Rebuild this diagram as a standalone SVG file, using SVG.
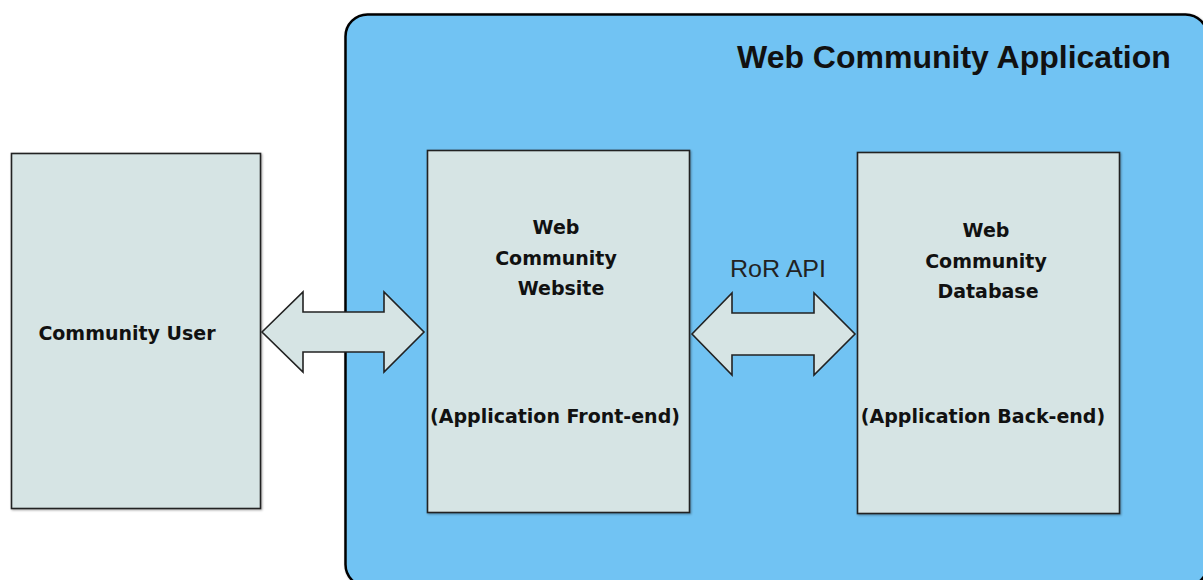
<svg xmlns="http://www.w3.org/2000/svg" width="1203" height="580" viewBox="0 0 1203 580">
  <defs>
    <filter id="soft" x="-5%" y="-5%" width="110%" height="110%">
      <feGaussianBlur in="SourceAlpha" stdDeviation="1"/>
      <feOffset dx="1" dy="1" result="b"/>
      <feFlood flood-color="#000" flood-opacity="0.35"/>
      <feComposite in2="b" operator="in"/>
      <feMerge><feMergeNode/><feMergeNode in="SourceGraphic"/></feMerge>
    </filter>
  </defs>
  <style>
    .container { fill: #71c3f3; stroke: #000; stroke-width: 2.5; }
    .box { fill: #d6e4e4; stroke: #222; stroke-width: 1.6; }
    .arrow { fill: #d6e4e4; stroke: #222; stroke-width: 1.6; stroke-linejoin: miter; }
    .title { font-family: "Liberation Sans", Arial, sans-serif; font-weight: bold; font-size: 32px; fill: #111; }
    .label { font-family: "DejaVu Sans", Verdana, sans-serif; font-weight: bold; font-size: 19px; fill: #111; text-anchor: middle; }
    .api { font-family: "Liberation Sans", Arial, sans-serif; font-size: 23px; fill: #222; text-anchor: middle; }
  </style>

  <!-- application boundary -->
  <g id="web-community-application">
    <rect class="container" x="345.5" y="14.5" width="862" height="572" rx="22" filter="url(#soft)"/>
    <text class="title" x="737" y="68">Web Community Application</text>
  </g>

  <g id="community-user">
    <rect class="box" x="11.5" y="153.5" width="249" height="355" filter="url(#soft)"/>
    <text class="label" x="127" y="340">Community User</text>
  </g>

  <g id="front-end">
    <rect class="box" x="427.5" y="150.5" width="262" height="362" filter="url(#soft)"/>
    <text class="label" x="556" y="234">Web</text>
    <text class="label" x="556" y="265">Community</text>
    <text class="label" x="561" y="295">Website</text>
    <text class="label" x="555" y="423">(Application Front-end)</text>
  </g>

  <g id="back-end">
    <rect class="box" x="857.5" y="152.5" width="262" height="361" filter="url(#soft)"/>
    <text class="label" x="986" y="237">Web</text>
    <text class="label" x="986" y="268">Community</text>
    <text class="label" x="988" y="298">Database</text>
    <text class="label" x="983" y="423">(Application Back-end)</text>
  </g>

  <!-- connectors: double-headed block arrows -->
  <g id="connectors">
    <polygon class="arrow" points="262,332 303,292 303,312 384,312 384,292 424,332 384,372 384,352 303,352 303,372"/>
    <polygon class="arrow" points="692,334 732,293 732,313 814,313 814,293 855,334 814,375 814,355 732,355 732,375"/>
    <text class="api" x="778" y="277" textLength="96" lengthAdjust="spacingAndGlyphs">RoR API</text>
  </g>
</svg>
